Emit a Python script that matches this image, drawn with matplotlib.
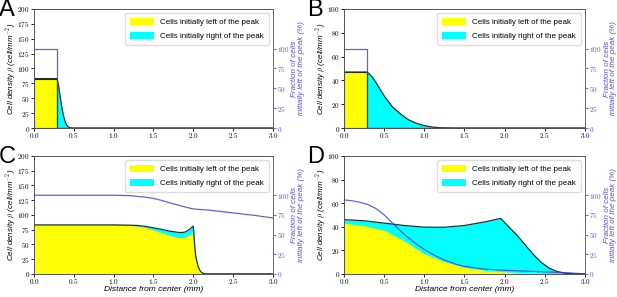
import numpy as np
import matplotlib
matplotlib.use("Agg")
import matplotlib.pyplot as plt
from matplotlib.ticker import FuncFormatter
from matplotlib.patches import Patch

plt.rcParams['mathtext.fontset'] = 'cm'
plt.rcParams['font.family'] = 'Liberation Sans'

# panel A
xA = [0, 0.29, 0.29, 0.31, 0.33, 0.35, 0.37, 0.39, 0.41, 0.43, 0.45, 0.48, 0.5, 3.0]
totA = [83, 83, 83, 70, 52, 35, 21, 11, 5, 2, 0.7, 0.1, 0, 0]
leftA = [83, 83, 0, 0, 0, 0, 0, 0, 0, 0, 0, 0, 0, 0]
fxA = [0, 0.29, 0.29, 3.0]
fracA = [100, 100, 0, 0]

# panel B
xB = [0, 0.29, 0.29, 0.35, 0.4, 0.45, 0.5, 0.6, 0.7, 0.8, 0.9, 1.0, 1.1, 1.2, 1.4, 3.0]
totB = [47, 47, 47, 43, 38, 32.5, 27, 18, 12, 7, 4, 2, 0.8, 0.2, 0, 0]
leftB = [47, 47, 0, 0, 0, 0, 0, 0, 0, 0, 0, 0, 0, 0, 0, 0]
fxB = [0, 0.29, 0.29, 3.0]
fracB = [100, 100, 0, 0]

# panel C
xC = [0, 0.5, 1.0, 1.2, 1.3, 1.4, 1.5, 1.6, 1.7, 1.8, 1.85, 1.9, 1.95, 2.0,
      2.01, 2.03, 2.06, 2.09, 2.12, 2.15, 3.0]
totC = [83, 83, 83, 82.5, 82, 80.5, 78, 75.5, 72.5, 70.5, 70, 71, 75, 81,
        60, 30, 12, 4, 1, 0, 0]
leftC = [83, 83, 83, 82, 81, 78.5, 74.5, 70, 65.5, 62, 61, 62, 66, 71,
         52, 26, 10, 3, 0.8, 0, 0]
fxC = [0, 0.5, 1.0, 1.2, 1.4, 1.5, 1.6, 1.75, 1.9, 2.0, 2.2, 2.5, 2.8, 3.0]
fracC = [100, 100, 100, 99.5, 97.5, 96, 93.5, 89, 85, 82.5, 81, 77.5, 74, 71]

# panel D
xD = [0, 0.25, 0.5, 0.75, 1.0, 1.25, 1.5, 1.75, 1.95, 2.05, 2.15, 2.25, 2.35,
      2.45, 2.55, 2.65, 2.75, 2.85, 3.0]
totD = [46, 45, 43, 41, 39.6, 39.5, 41, 44, 47, 40, 33, 25, 17, 10, 5, 2, 0.6, 0.1, 0]
leftD = [43, 41, 37, 28, 17, 10.5, 5.5, 3, 1.9, 1.5, 1.2, 1, 0.8, 0.6, 0.4, 0.25, 0.15, 0.05, 0]
fxD = [0, 0.1, 0.2, 0.3, 0.4, 0.5, 0.6, 0.75, 0.9, 1.0, 1.1, 1.25, 1.4, 1.5,
       1.75, 2.0, 2.5, 2.75, 3.0]
fracD = [94, 93, 91, 88, 83, 75, 65, 50, 38, 31, 25, 17.5, 12, 9.5, 6, 4.5, 2.5, 1.5, 0]

panels = [
    ('A', xA, totA, leftA, fxA, fracA, 200, True),
    ('B', xB, totB, leftB, fxB, fracB, 100, True),
    ('C', xC, totC, leftC, fxC, fracC, 200, False),
    ('D', xD, totD, leftD, fxD, fracD, 100, False),
]
pos = {'A': [0.055, 0.569, 0.3875, 0.401], 'B': [0.5575, 0.569, 0.3906, 0.401],
       'C': [0.055, 0.078, 0.3875, 0.397], 'D': [0.5575, 0.078, 0.3906, 0.397]}
letter_x = {'A': -0.002, 'B': 0.497, 'C': -0.002, 'D': 0.497}

blue = '#3a3ad8'
tblue = '#5050e8'
fs_tick = 5.2
fs_lab = 5.8

fig = plt.figure(figsize=(6.17, 2.97), dpi=100)
for name, x, tot, left, fx, frac, ymax, edged in panels:
    ax = fig.add_axes(pos[name])
    ax.fill_between(x, 0, tot, color='#00ffff', lw=0)
    if edged:
        ax.fill_between(x, 0, left, facecolor='#ffff00', edgecolor='#222222', lw=0.8)
    else:
        ax.fill_between(x, 0, left, color='#ffff00', lw=0)
    ax.plot(x, tot, color='#1c3434', lw=0.9)
    ax.set_xlim(0, 3)
    ax.set_ylim(0, ymax)
    ax.xaxis.set_major_formatter(FuncFormatter(lambda v, p: r'$%.1f$' % v))
    ax.yaxis.set_major_formatter(FuncFormatter(lambda v, p: r'$%d$' % v))
    ax.tick_params(labelsize=fs_tick, length=2, width=0.6, pad=1)
    ax.tick_params(axis='x', pad=0.5)
    for s in ax.spines.values():
        s.set_linewidth(0.6)
        s.set_color('#555555')
    ax.set_ylabel(r'Cell density $\rho$ (cell/mm$^{-2}$)', style='italic',
                  fontsize=fs_lab)
    ax.yaxis.set_label_coords(-0.067, 0.5)
    if name in ('C', 'D'):
        ax.set_xlabel('Distance from center (mm)', style='italic', fontsize=fs_lab + 0.2)
        ax.xaxis.set_label_coords(0.5, -0.1)

    handles = [Patch(facecolor='#ffff00', label='Cells initially left of the peak'),
               Patch(facecolor='#00ffff', label='Cells initially right of the peak')]
    ax.legend(handles=handles, loc='upper right', fontsize=5.8, frameon=True,
              handlelength=3.0, handleheight=1.0, borderpad=0.6, labelspacing=0.7,
              edgecolor='#dddddd', framealpha=1, fancybox=True)

    # fraction curve on top of the fills
    ax2 = ax.twinx()
    ax2.plot(fx, frac, color=blue, lw=0.9, alpha=0.8)
    ax2.set_ylim(0, 150)
    ax2.set_yticks([0, 25, 50, 75, 100])
    ax2.yaxis.set_major_formatter(FuncFormatter(lambda v, p: r'$%d$' % v))
    ax2.tick_params(labelsize=fs_tick, length=2, width=0.6, pad=1,
                    colors=tblue)
    for s in ax2.spines.values():
        s.set_linewidth(0.6)
        s.set_color('#555555')
    ax2.spines['right'].set_color('#6a6aa0')
    ax2.set_ylabel('Fraction of cells\ninitially left of the peak (%)', style='italic',
                   fontsize=fs_lab, color=tblue, linespacing=0.9)
    ax2.yaxis.set_label_coords(1.077, 0.5)

    fig.text(letter_x[name], pos[name][1] + pos[name][3] + 0.035, name, fontsize=17,
             va='top', ha='left')

fig.savefig('out.png', dpi=100)
